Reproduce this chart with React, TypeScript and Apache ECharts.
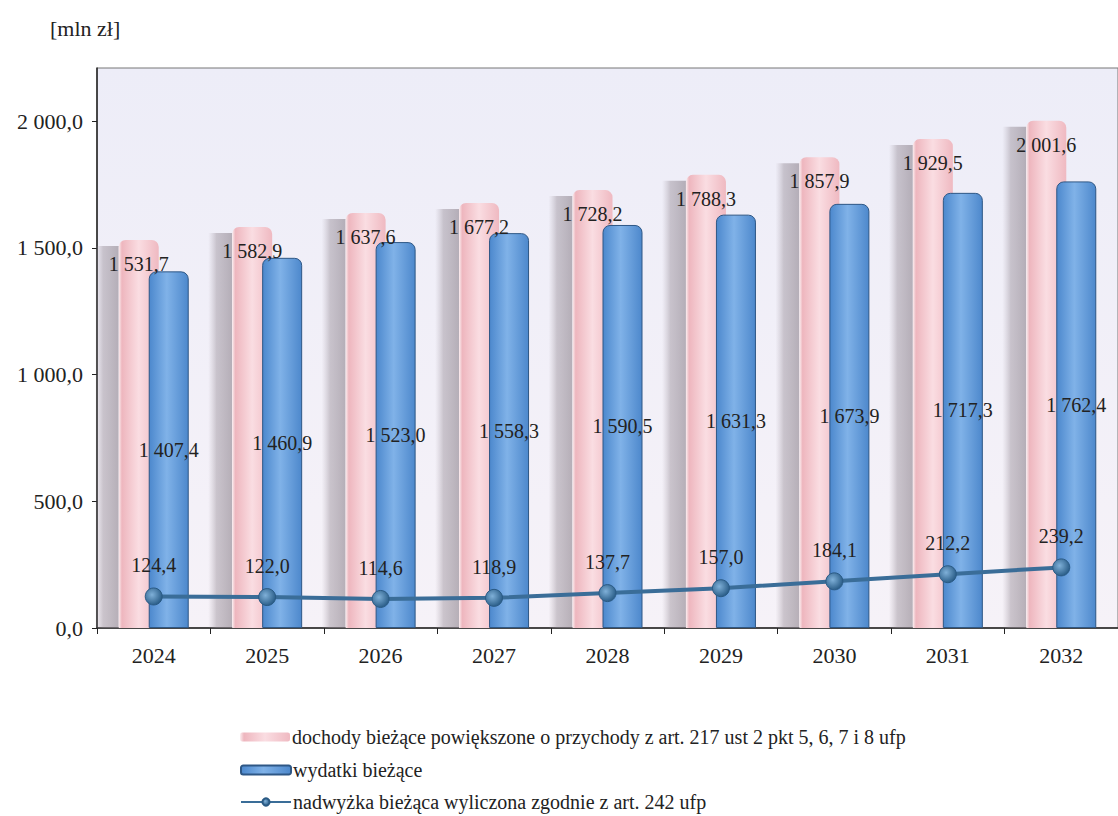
import React, { useEffect, useRef } from "react";
import * as echarts from "echarts";

const categories = ["2024", "2025", "2026", "2027", "2028", "2029", "2030", "2031", "2032"];
const dochody = [1531.7, 1582.9, 1637.6, 1677.2, 1728.2, 1788.3, 1857.9, 1929.5, 2001.6];
const wydatki = [1407.4, 1460.9, 1523.0, 1558.3, 1590.5, 1631.3, 1673.9, 1717.3, 1762.4];
const nadwyzka = [124.4, 122.0, 114.6, 118.9, 137.7, 157.0, 184.1, 212.2, 239.2];
const yTicks = [0, 500, 1000, 1500, 2000];

const seriesNames = [
  "dochody bieżące powiększone o przychody z art. 217 ust 2 pkt 5, 6, 7 i 8 ufp",
  "wydatki bieżące",
  "nadwyżka bieżąca wyliczona zgodnie z art. 242 ufp",
];

const fmt = (v: number) => {
  const [i, d] = v.toFixed(1).split(".");
  return i.replace(/\B(?=(\d{3})+(?!\d))/g, " ") + "," + d;
};

const FONT = "Liberation Serif";
const BAR_W = 40;
const GROUP_HALF = 35;
const LEGEND_TOPS = [727, 760, 792];

export default function App() {
  const ref = useRef<HTMLDivElement>(null);
  useEffect(() => {
    if (!ref.current) return;
    const chart = echarts.init(ref.current, undefined, { renderer: "svg" });
    const pinkGrad = new echarts.graphic.LinearGradient(0, 0, 1, 0, [
      { offset: 0, color: "#fbeef0" },
      { offset: 0.08, color: "#eeb6be" },
      { offset: 0.5, color: "#fadde2" },
      { offset: 1, color: "#efb9c1" },
    ]);
    const blueGrad = new echarts.graphic.LinearGradient(0, 0, 1, 0, [
      { offset: 0, color: "#4c88cd" },
      { offset: 0.45, color: "#80b2e8" },
      { offset: 1, color: "#4d88cc" },
    ]);
    const shadowGrad = new echarts.graphic.LinearGradient(0, 0, 1, 0, [
      { offset: 0, color: "rgba(170,160,170,0.0)" },
      { offset: 0.35, color: "rgba(150,140,150,0.45)" },
      { offset: 1, color: "rgba(140,130,140,0.6)" },
    ]);
    chart.setOption({
      animation: false,
      textStyle: { fontFamily: FONT },
      graphic: [
        {
          type: "text",
          left: 50,
          top: 17,
          style: { text: "[mln zł]", fontSize: 22, fontFamily: FONT, fill: "#222" },
        },
      ],
      grid: {
        left: 97,
        top: 68,
        width: 1040,
        height: 560,
        show: true,
        backgroundColor: new echarts.graphic.LinearGradient(0, 0, 0, 1, [
          { offset: 0, color: "#ededf8" },
          { offset: 1, color: "#f6f2f8" },
        ]),
        borderColor: "#777",
        borderWidth: 1,
      },
      legend: seriesNames.map((name, i) => ({
        orient: "horizontal",
        left: 240,
        top: LEGEND_TOPS[i],
        itemWidth: 50,
        itemHeight: 9,
        padding: 0,
        textStyle: { fontSize: 20, fontFamily: FONT, color: "#222", padding: [0, 0, 0, -3] },
        data: [name],
      })),
      xAxis: {
        type: "category",
        data: categories,
        axisLine: { lineStyle: { color: "#222", width: 1.5 } },
        axisTick: { show: true, length: 6, lineStyle: { color: "#222" } },
        axisLabel: { fontSize: 22, color: "#222", margin: 16, fontFamily: FONT },
      },
      yAxis: {
        type: "value",
        min: 0,
        max: 2210,
        interval: 500,
        splitLine: { show: false },
        axisLine: { show: true, lineStyle: { color: "#222", width: 1.5 } },
        axisTick: { show: true, length: 5, customValues: yTicks, lineStyle: { color: "#222" } },
        axisLabel: {
          fontSize: 22,
          color: "#222",
          margin: 14,
          fontFamily: FONT,
          customValues: yTicks,
          formatter: (v: number) => fmt(v),
        },
      },
      series: [
        {
          name: "shadow",
          type: "custom",
          data: dochody.map((v, i) => [i, v]),
          silent: true,
          z: 1,
          renderItem: (params: any, api: any) => {
            const top = api.coord([api.value(0), api.value(1)]);
            const base = api.coord([api.value(0), 0]);
            const left = top[0] - GROUP_HALF;
            return {
              type: "rect",
              shape: { x: left - 24, y: top[1] + 6, width: 24, height: base[1] - top[1] - 6 },
              style: { fill: shadowGrad },
            };
          },
        },
        {
          name: seriesNames[0],
          type: "bar",
          data: dochody,
          barWidth: BAR_W,
          barGap: "-25%",
          z: 2,
          itemStyle: {
            color: pinkGrad,
            borderRadius: [7, 7, 0, 0],
          },
          label: {
            show: true,
            position: "insideTop",
            distance: 14,
            fontSize: 20,
            color: "#222",
            fontFamily: FONT,
            formatter: (p: any) => fmt(p.value),
          },
        },
        {
          name: seriesNames[1],
          type: "bar",
          data: wydatki,
          barWidth: BAR_W,
          z: 2,
          itemStyle: {
            color: blueGrad,
            borderColor: "#2e5785",
            borderWidth: 1,
            borderRadius: [7, 7, 0, 0],
          },
          label: {
            show: true,
            position: "inside",
            fontSize: 20,
            color: "#222",
            fontFamily: FONT,
            formatter: (p: any) => fmt(p.value),
          },
        },
        {
          name: seriesNames[2],
          type: "line",
          data: nadwyzka,
          symbol: "circle",
          symbolSize: 17,
          lineStyle: { color: "#3a6d98", width: 4 },
          itemStyle: {
            color: new echarts.graphic.RadialGradient(0.4, 0.4, 0.6, [
              { offset: 0, color: "#7fb0d8" },
              { offset: 1, color: "#2c5f8a" },
            ]),
            borderColor: "#2a5a84",
            borderWidth: 1,
          },
          label: {
            show: true,
            position: "top",
            distance: 12,
            fontSize: 20,
            color: "#222",
            fontFamily: FONT,
            formatter: (p: any) => fmt(p.value),
          },
          z: 5,
        },
      ],
    });
    return () => chart.dispose();
  }, []);
  return (
    <div
      ref={ref}
      style={{ position: "absolute", left: 0, top: 0, width: 1118, height: 816, background: "#fff" }}
    />
  );
}
